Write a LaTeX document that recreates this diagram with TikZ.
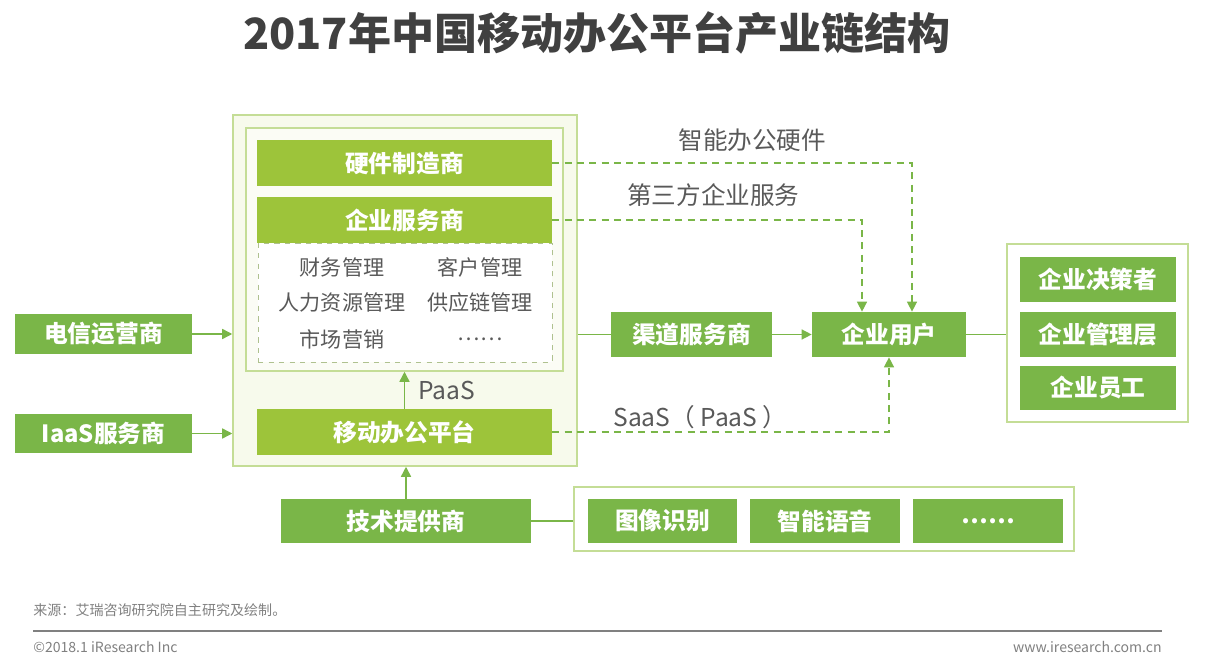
\documentclass[tikz,border=0pt]{standalone}
\usepackage{fontspec}
\newfontfamily\cjk{Noto Sans CJK SC}
\usetikzlibrary{arrows.meta, positioning}
\definecolor{irgreen}{RGB}{122,182,72}
\definecolor{irlime}{RGB}{157,196,58}
\definecolor{irpale}{RGB}{247,250,236}
\definecolor{irframe}{RGB}{196,221,150}
\definecolor{irtext}{RGB}{89,89,89}
\definecolor{irtitle}{RGB}{64,64,64}
\definecolor{irgray}{RGB}{128,128,128}

\begin{document}
\begin{tikzpicture}[
  x=0.02cm, y=-0.02cm,
  every node/.style={font=\cjk},
  darkbox/.style={fill=irgreen, text=white, font=\cjk\bfseries\fontsize{13.5}{16}\selectfont, inner sep=0pt, minimum height=0.88cm},
  limebox/.style={darkbox, fill=irlime, minimum width=5.9cm, minimum height=0.92cm},
  frame/.style={draw=irframe, line width=0.9pt, inner sep=0pt},
  item/.style={text=irtext, font=\cjk\fontsize{12}{14}\selectfont},
  flowlabel/.style={text=irtext, font=\cjk\fontsize{14}{16}\selectfont},
  foot/.style={text=irgray, font=\cjk\fontsize{8}{10}\selectfont, inner sep=0pt},
  arrow/.style={-{Triangle[length=2mm, width=2mm]}, draw=irgreen, line width=0.8pt},
  link/.style={draw=irgreen, line width=0.8pt},
  dasharrow/.style={arrow, dash pattern=on 4pt off 3pt}
]
  \useasboundingbox (0,0) rectangle (1206,661);

  \node[font=\cjk\bfseries\fontsize{24.5}{28}\selectfont, text=irtitle] (title) at (597,33) {2017年中国移动办公平台产业链结构};

  % Piattaforma e fornitori
  \node[frame, fill=irpale, minimum width=6.88cm, minimum height=7.02cm] (pfm) at (405,290.5) {};
  \node[frame, fill=irpale!50!white, minimum width=6.34cm, minimum height=4.86cm] (svc) at (404.5,249.5) {};
  \node[limebox] (hw) at (404.5,163) {硬件制造商};
  \node[draw=irframe!70!gray, dashed, fill=white, minimum width=5.88cm, minimum height=2.38cm, inner sep=0pt] (lst) at (405,302.5) {};
  \node[limebox] (es) at (404.5,220) {企业服务商};
  \node[item] (fin) at (342,267) {财务管理};
  \node[item] (crm) at (480,267) {客户管理};
  \node[item] (hr) at (342,302) {人力资源管理};
  \node[item] (scm) at (480,302) {供应链管理};
  \node[item] (mkt) at (342,339) {市场营销};
  \node[item] (etc) at (480,339) {……};
  \node[limebox] (mop) at (404.5,432) {移动办公平台};

  \node[darkbox, minimum width=3.54cm, minimum height=0.8cm] (tel) at (103.5,334) {电信运营商};
  \node[darkbox, minimum width=3.54cm, minimum height=0.8cm] (iaas) at (103.5,433.5) {IaaS服务商};

  % Canale e utenti
  \node[darkbox, minimum width=3.22cm, minimum height=0.9cm] (chn) at (691.5,334.5) {渠道服务商};
  \node[darkbox, minimum width=3.08cm, minimum height=0.9cm] (usr) at (889,334.5) {企业用户};
  \node[frame, fill=white, minimum width=3.62cm, minimum height=3.56cm] (role) at (1097.5,333) {};
  \node[darkbox, minimum width=3.12cm, minimum height=0.9cm] (dec) at (1098,279.5) {企业决策者};
  \node[darkbox, minimum width=3.12cm, minimum height=0.9cm] (mgr) at (1098,334.5) {企业管理层};
  \node[darkbox, minimum width=3.12cm, minimum height=0.9cm] (stf) at (1098,388) {企业员工};

  % Tecnologia
  \node[darkbox, minimum width=5cm] (tec) at (406,521) {技术提供商};
  \node[frame, fill=white, minimum width=10cm, minimum height=1.28cm] (tech) at (824,519) {};
  \node[darkbox, minimum width=3cm] (img) at (662.5,521) {图像识别};
  \node[darkbox, minimum width=3cm] (voc) at (825,521) {智能语音};
  \node[darkbox, minimum width=3cm] (more) at (988,521) {……};

  \draw[arrow] (tel.east) -- (tel.east -| pfm.west);
  \draw[arrow] (iaas.east) -- (iaas.east -| pfm.west);
  \draw[arrow] (mop.north) -- (mop.north |- svc.south) node[flowlabel, midway, right=0.15cm] {PaaS};
  \draw[arrow] (tec.north) -- (tec.north |- pfm.south);
  \draw[link] (chn.west -| pfm.east) -- (chn.west);
  \draw[arrow] (chn) -- (usr);
  \draw[link] (usr.east) -- (usr.east -| role.west);
  \draw[link] (tec.east) -- (tec.east -| tech.west);

  \draw[dasharrow] (hw.east) -| ([xshift=0.46cm]usr.north) node[flowlabel, pos=0.278, yshift=0.46cm] {智能办公硬件};
  \draw[dasharrow] (es.east) -| ([xshift=-0.54cm]usr.north) node[flowlabel, pos=0.26, yshift=0.5cm] {第三方企业服务};
  \draw[dasharrow] (mop.east) -| (usr.south) node[flowlabel, pos=0.22, yshift=0.29cm] {SaaS（ PaaS ）};

  % Fonte
  \node[foot, anchor=west] (src) at (33,610) {来源：艾瑞咨询研究院自主研究及绘制。};
  \draw[irgray, line width=0.8pt] (33,631) -- (1162,631);
  \node[foot, anchor=west] (copy) at (33,647) {©2018.1 iResearch Inc};
  \node[foot, anchor=east] (web) at (1162,647) {www.iresearch.com.cn};

\end{tikzpicture}
\end{document}
